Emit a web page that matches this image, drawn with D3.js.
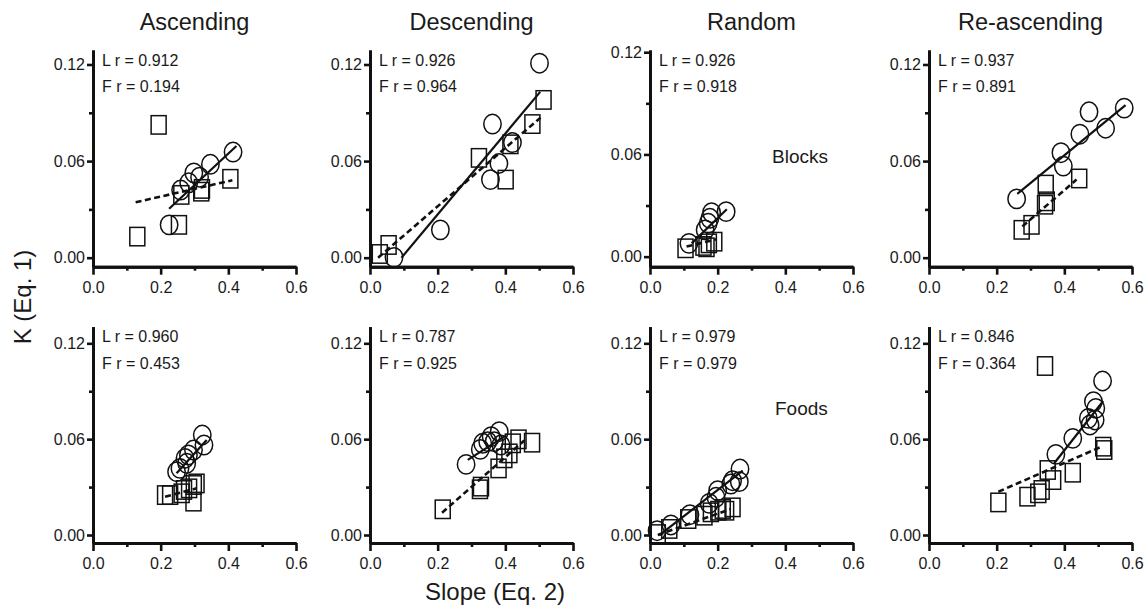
<!DOCTYPE html>
<html>
<head>
<meta charset="utf-8">
<script src="https://cdn.jsdelivr.net/npm/d3@7"></script>
<style>
  html, body { margin: 0; padding: 0; background: #fff; }
  svg { display: block; font-family: "Liberation Sans", Arial, Helvetica, sans-serif; }
</style>
</head>
<body>
<svg id="chart" width="1148" height="609"></svg>
<script>
// ---------- data ----------
const conditions = ["Ascending", "Descending", "Random", "Re-ascending"];
const stimuli = ["Blocks", "Foods"];
const xMajorTicks = [0, 0.2, 0.4, 0.6];
const xMinorTicks = [0.1, 0.3, 0.5];
const yMajorTicks = [0, 0.06, 0.12];
const yMinorTicks = [0.03, 0.09];
const lR = ["0.912", "0.926", "0.926", "0.937", "0.960", "0.787", "0.979", "0.846"];
const fR = ["0.194", "0.964", "0.918", "0.891", "0.453", "0.925", "0.979", "0.364"];

// Blocks (top row): L = circles, F = squares, [slope, K]
const ascBlkL = [[0.225,0.0204],[0.259,0.042],[0.283,0.0465],[0.298,0.0527],[0.315,0.050],[0.347,0.058],[0.414,0.0656]];
const ascBlkF = [[0.194,0.0825],[0.131,0.0131],[0.254,0.0204],[0.261,0.039],[0.320,0.041],[0.322,0.0427],[0.406,0.049]];
const ascBlkLFit = [[0.225,0.0304],[0.424,0.0694]];
const ascBlkFFit = [[0.126,0.0344],[0.412,0.0481]];

const desBlkL = [[0.071,0.0002],[0.208,0.0173],[0.362,0.083],[0.356,0.0485],[0.381,0.0585],[0.421,0.0715],[0.501,0.1208]];
const desBlkF = [[0.029,0.0023],[0.055,0.0079],[0.322,0.062],[0.415,0.0704],[0.401,0.0485],[0.480,0.083],[0.513,0.098]];
const desBlkLFit = [[0.093,0.0],[0.503,0.103]];
const desBlkFFit = [[0.024,0.0],[0.504,0.087]];

const rndBlkL = [[0.115,0.0078],[0.163,0.0157],[0.172,0.0196],[0.177,0.0225],[0.182,0.0258],[0.225,0.0264]];
const rndBlkF = [[0.105,0.0049],[0.158,0.0063],[0.174,0.0078],[0.190,0.0088],[0.167,0.0055]];
const rndBlkLFit = [[0.123,0.0078],[0.227,0.0278]];
const rndBlkFFit = [[0.108,0.0059],[0.197,0.0102]];

const reaBlkL = [[0.259,0.0365],[0.390,0.0652],[0.397,0.0569],[0.446,0.0767],[0.473,0.0906],[0.522,0.0804],[0.577,0.0929]];
const reaBlkF = [[0.274,0.0173],[0.303,0.0204],[0.345,0.0454],[0.343,0.0329],[0.348,0.035],[0.444,0.0492]];
const reaBlkLFit = [[0.261,0.0396],[0.581,0.0948]];
const reaBlkFFit = [[0.276,0.0194],[0.436,0.0485]];

// Foods (bottom row)
const ascFdL = [[0.247,0.0396],[0.257,0.0417],[0.277,0.0449],[0.272,0.048],[0.282,0.0501],[0.297,0.0532],[0.323,0.0626],[0.328,0.0563]];
const ascFdF = [[0.213,0.025],[0.228,0.025],[0.262,0.0261],[0.269,0.0282],[0.284,0.0292],[0.297,0.0209],[0.306,0.0323],[0.298,0.0313]];
const ascFdLFit = [[0.247,0.0386],[0.336,0.0595]];
const ascFdFFit = [[0.213,0.024],[0.306,0.0292]];

const desFdL = [[0.284,0.0442],[0.326,0.0536],[0.333,0.0574],[0.348,0.0584],[0.358,0.0616],[0.367,0.0584],[0.382,0.0647],[0.387,0.0563]];
const desFdF = [[0.215,0.0161],[0.325,0.0286],[0.328,0.0303],[0.380,0.0417],[0.397,0.048],[0.412,0.0511],[0.422,0.0574],[0.439,0.0599],[0.479,0.0578]];
const desFdLFit = [[0.289,0.047],[0.397,0.0616]];
const desFdFFit = [[0.213,0.014],[0.456,0.0591]];

const rndFdL = [[0.021,0.0027],[0.062,0.0063],[0.118,0.0127],[0.175,0.0198],[0.195,0.0236],[0.200,0.0278],[0.239,0.0319],[0.244,0.034],[0.264,0.0334],[0.266,0.0413]];
const rndFdF = [[0.023,0.0006],[0.057,0.0038],[0.113,0.010],[0.161,0.0121],[0.180,0.0142],[0.202,0.0152],[0.215,0.0163],[0.225,0.0152],[0.244,0.0173]];
const rndFdLFit = [[0.028,0.0],[0.274,0.0403]];
const rndFdFFit = [[0.023,0.0],[0.239,0.0163]];

const reaFdL = [[0.375,0.0505],[0.425,0.0605],[0.471,0.073],[0.476,0.0689],[0.486,0.0835],[0.493,0.0793],[0.491,0.072],[0.513,0.0964]];
const reaFdF = [[0.205,0.0204],[0.291,0.024],[0.323,0.0261],[0.333,0.0282],[0.343,0.1058],[0.351,0.0407],[0.367,0.0344],[0.425,0.039],[0.515,0.0553],[0.518,0.0532]];
const reaFdLFit = [[0.370,0.0449],[0.515,0.0839]];
const reaFdFFit = [[0.205,0.0271],[0.510,0.0553]];

// ---------- layout ----------
const colX = [93, 370, 650, 929];     // pixel position of slope = 0
const plotW = 203;                   // width for 0..0.6
const rowTop = [50, 326.7];          // top of y axis
const rowBot = [266.7, 543];         // x-axis line
const yDomains = [
  [[-0.0056,0.129],[-0.0056,0.129],[-0.0059,0.1213],[-0.0056,0.129]],
  [[-0.005,0.1304],[-0.005,0.1304],[-0.005,0.1304],[-0.005,0.1304]]
];

const panels = [
  {L: ascBlkL, F: ascBlkF, LFit: ascBlkLFit, FFit: ascBlkFFit},
  {L: desBlkL, F: desBlkF, LFit: desBlkLFit, FFit: desBlkFFit},
  {L: rndBlkL, F: rndBlkF, LFit: rndBlkLFit, FFit: rndBlkFFit},
  {L: reaBlkL, F: reaBlkF, LFit: reaBlkLFit, FFit: reaBlkFFit},
  {L: ascFdL, F: ascFdF, LFit: ascFdLFit, FFit: ascFdFFit},
  {L: desFdL, F: desFdF, LFit: desFdLFit, FFit: desFdFFit},
  {L: rndFdL, F: rndFdF, LFit: rndFdLFit, FFit: rndFdFFit},
  {L: reaFdL, F: reaFdF, LFit: reaFdLFit, FFit: reaFdFFit}
];

const ink = "#111";
const txt = "#1a1a1a";
const svg = d3.select("#chart");

// column titles
conditions.forEach((c, i) => {
  svg.append("text")
    .attr("x", colX[i] + plotW / 2).attr("y", 30)
    .attr("text-anchor", "middle")
    .attr("font-size", 23.5).attr("fill", txt)
    .text(c);
});

// axis titles
svg.append("text")
  .attr("transform", "translate(31,297) rotate(-90)")
  .attr("text-anchor", "middle").attr("font-size", 24).attr("fill", txt)
  .text("K (Eq. 1)");
svg.append("text")
  .attr("x", 495).attr("y", 600)
  .attr("text-anchor", "middle").attr("font-size", 24).attr("fill", txt)
  .text("Slope (Eq. 2)");

panels.forEach((p, idx) => {
  const r = Math.floor(idx / 4), c = idx % 4;
  const x = d3.scaleLinear().domain([0, 0.6]).range([colX[c], colX[c] + plotW]);
  const y = d3.scaleLinear().domain(yDomains[r][c]).range([rowBot[r], rowTop[r]]);
  const g = svg.append("g");

  // axes
  const xMinor = d3.axisBottom(x).tickValues(xMinorTicks).tickSize(4).tickSizeOuter(0).tickFormat("");
  const xMajor = d3.axisBottom(x).tickValues(xMajorTicks).tickSize(8).tickSizeOuter(0)
    .tickPadding(7).tickFormat(d3.format(".1f"));
  const yMinor = d3.axisLeft(y).tickValues(yMinorTicks).tickSize(4).tickSizeOuter(0).tickFormat("");
  const yMajor = d3.axisLeft(y).tickValues(yMajorTicks).tickSize(6).tickSizeOuter(0)
    .tickPadding(2).tickFormat(d3.format(".2f"));

  const styleAxis = sel => {
    sel.select(".domain").attr("stroke", ink).attr("stroke-width", 3);
    sel.selectAll(".tick line").attr("stroke", ink).attr("stroke-width", 2.6);
    sel.selectAll(".tick text").attr("font-size", 16).attr("fill", txt)
      .attr("font-family", "Liberation Sans, Arial, sans-serif");
  };
  g.append("g").attr("transform", `translate(0,${rowBot[r]})`).call(xMinor).call(styleAxis);
  g.append("g").attr("transform", `translate(0,${rowBot[r]})`).call(xMajor).call(styleAxis);
  g.append("g").attr("transform", `translate(${colX[c]},0)`).call(yMinor).call(styleAxis);
  g.append("g").attr("transform", `translate(${colX[c]},0)`).call(yMajor).call(styleAxis);

  // squares (F)
  g.selectAll("rect.f").data(p.F).enter().append("rect")
    .attr("x", d => x(d[0]) - 7.5).attr("y", d => y(d[1]) - 9.2)
    .attr("width", 15).attr("height", 18.4)
    .attr("fill", "none").attr("stroke", ink).attr("stroke-width", 1.5);
  // circles (L)
  g.selectAll("ellipse.l").data(p.L).enter().append("ellipse")
    .attr("cx", d => x(d[0])).attr("cy", d => y(d[1]))
    .attr("rx", 8.7).attr("ry", 9.7)
    .attr("fill", "none").attr("stroke", ink).attr("stroke-width", 1.5);

  const line = d3.line().x(d => x(d[0])).y(d => y(d[1]));
  g.append("path").attr("d", line(p.LFit)).attr("fill", "none")
    .attr("stroke", ink).attr("stroke-width", 2.2);
  g.append("path").attr("d", line(p.FFit)).attr("fill", "none")
    .attr("stroke", ink).attr("stroke-width", 2.6).attr("stroke-dasharray", "6,3.5");

  // r labels
  const tx = colX[c] + 9;
  const ty = r === 0 ? [66, 92] : [342, 369];
  g.append("text").attr("x", tx).attr("y", ty[0]).attr("font-size", 16).attr("fill", txt)
    .text("L r = " + lR[idx]);
  g.append("text").attr("x", tx).attr("y", ty[1]).attr("font-size", 16).attr("fill", txt)
    .text("F r = " + fR[idx]);
});

// row labels in Random column
svg.append("text").attr("x", 772).attr("y", 163).attr("font-size", 19).attr("fill", txt).text(stimuli[0]);
svg.append("text").attr("x", 775).attr("y", 415).attr("font-size", 19).attr("fill", txt).text(stimuli[1]);
</script>
</body>
</html>
